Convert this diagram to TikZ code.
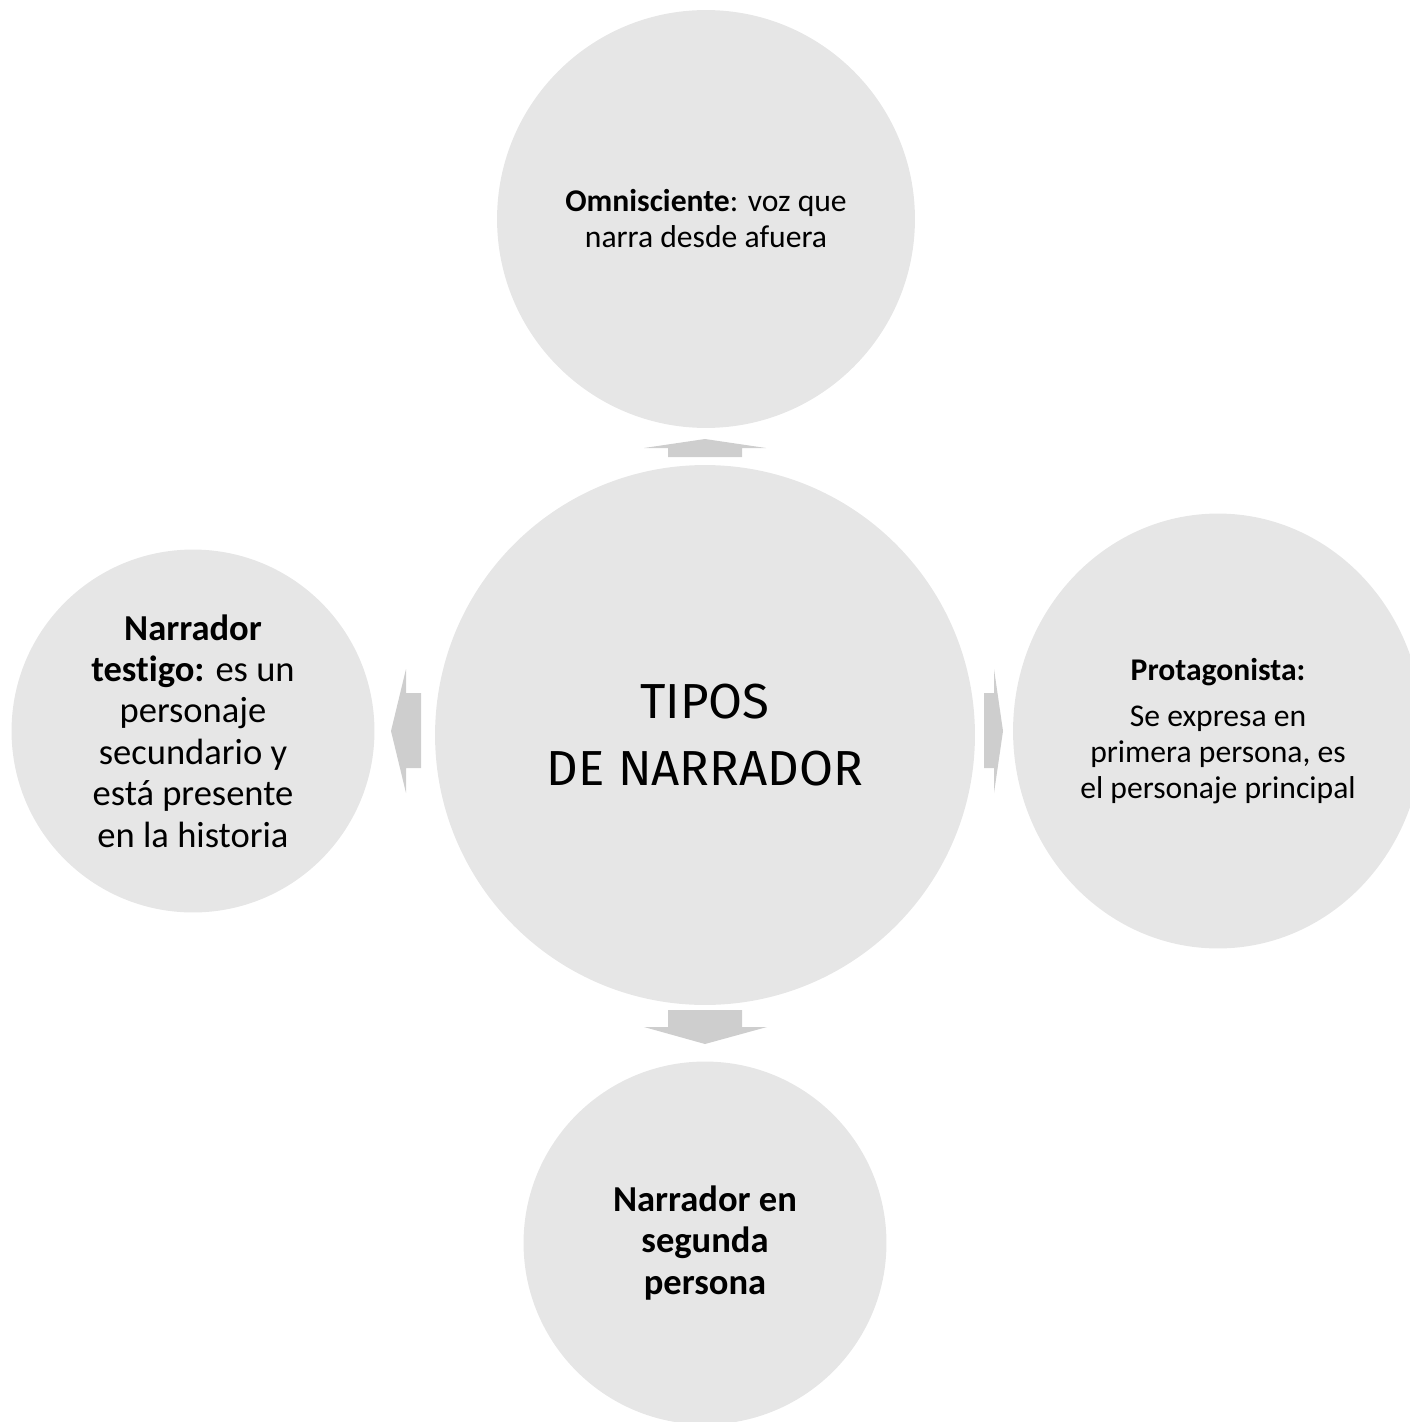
\documentclass[tikz,border=0pt]{standalone}
\usepackage{fontspec}
\setmainfont{Carlito}[Ligatures={TeX,NoCommon}]
\newfontfamily\dinfont{Fira Sans}
\usetikzlibrary{shapes.geometric}
\definecolor{circgray}{RGB}{230,230,230}
\definecolor{arrgray}{RGB}{206,206,206}
\tikzstyle{bubble} = [circle, fill=circgray, text centered, inner sep=0pt]
\tikzstyle{smalltext} = [font=\fontsize{18}{20.5}\selectfont]
\tikzstyle{bigtext} = [font=\fontsize{20.8}{23.6}\selectfont]
\tikzstyle{blockarrow} = [fill=arrgray]

\begin{document}
\begin{tikzpicture}[x=0.02cm, y=-0.02cm]
    \useasboundingbox (0,0) rectangle (1409,1422);

    \node [bubble, minimum size=10.8cm, align=center, font=\dinfont\fontsize{28}{38}\selectfont] at (705,735) (tipos) {TIPOS\\DE NARRADOR};
    \node [bubble, minimum size=8.36cm, align=center, smalltext] at (706,219) (omni) {\textbf{Omnisciente}: voz que\\narra desde afuera};
    \node [bubble, minimum size=7.26cm, align=center, bigtext] at (193,731) (testigo) {\textbf{Narrador}\\\textbf{testigo:} es un\\personaje\\secundario y\\está presente\\en la historia};
    \node [ellipse, fill=circgray, minimum width=8.2cm, minimum height=8.7cm, inner sep=0pt, align=center, smalltext] at (1218,731) (prota) {\textbf{Protagonista:}\\[6pt]Se expresa en\\primera persona, es\\el personaje principal};
    \node [bubble, minimum size=7.26cm, align=center, bigtext] at (705,1243) (segunda) {\textbf{Narrador en}\\\textbf{segunda}\\\textbf{persona}};

    % block arrows between the centre and the outer circles
    \fill [blockarrow] (668,457) -- (668,448) -- (644,448) -- (705,439) -- (766,448) -- (742,448) -- (742,457) -- cycle;
    \fill [blockarrow] (668,1010) -- (742,1010) -- (742,1027) -- (767,1027) -- (705,1044) -- (644,1027) -- (668,1027) -- cycle;
    \fill [blockarrow] (421,693) -- (406,693) -- (406,669) -- (391,731) -- (406,793) -- (406,768) -- (421,768) -- cycle;
    \fill [blockarrow] (984,693) -- (994,693) -- (994,669) -- (1003,731) -- (994,793) -- (994,768) -- (984,768) -- cycle;
\end{tikzpicture}
\end{document}
